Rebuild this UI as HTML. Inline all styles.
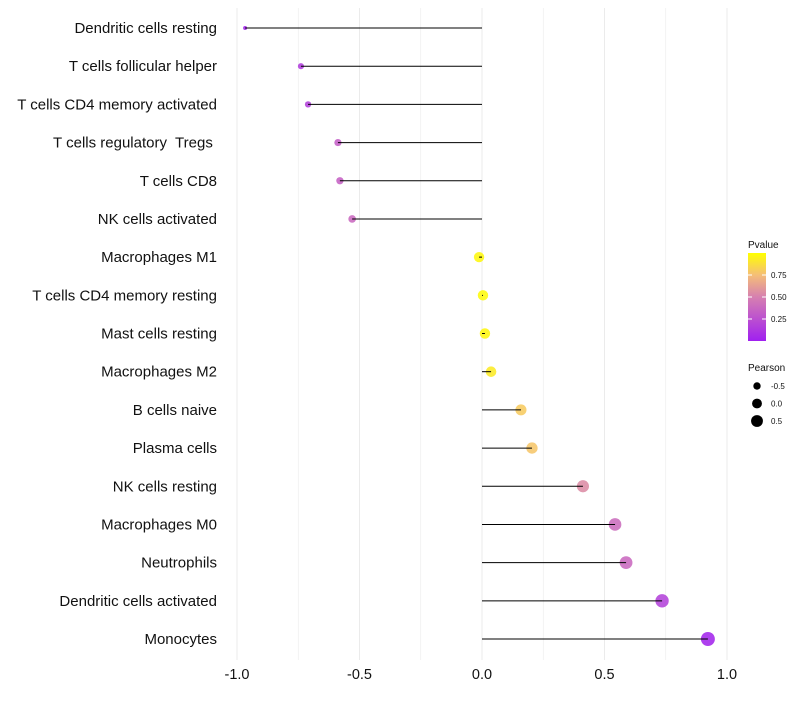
<!DOCTYPE html>
<html><head><meta charset="utf-8"><style>
body{margin:0;background:#fff;font-family:"Liberation Sans",sans-serif}
</style></head><body>
<svg id="c" width="800" height="700" xmlns="http://www.w3.org/2000/svg"></svg>
<script>
const categories=["Dendritic cells resting","T cells follicular helper","T cells CD4 memory activated","T cells regulatory  Tregs ","T cells CD8","NK cells activated","Macrophages M1","T cells CD4 memory resting","Mast cells resting","Macrophages M2","B cells naive","Plasma cells","NK cells resting","Macrophages M0","Neutrophils","Dendritic cells activated","Monocytes"];
const pearson=[-0.967,-0.739,-0.71,-0.588,-0.58,-0.53,-0.012,0.004,0.012,0.037,0.159,0.204,0.412,0.543,0.588,0.735,0.922];
const pvalue=[0.03,0.15,0.17,0.33,0.34,0.38,0.97,0.98,0.97,0.92,0.8,0.78,0.55,0.4,0.38,0.18,0.03];
const xTicks=[-1,-0.5,0,0.5,1];
const xTickLabels=["-1.0","-0.5","0.0","0.5","1.0"];
const pTicks=[0.25,0.5,0.75];
const pTickLabels=["0.25","0.50","0.75"];
const sizeKeys=[-0.5,0,0.5];
const sizeKeyLabels=["-0.5","0.0","0.5"];
const svg=document.getElementById('c');const NS="http://www.w3.org/2000/svg";
function el(t,a){const e=document.createElementNS(NS,t);for(const k in a)e.setAttribute(k,a[k]);svg.appendChild(e);return e;}
const x=v=>482+v*245;
const y=i=>28+i*(611/16);
const r=v=>Math.sqrt(Math.max(1,27+23.8*v));
const stops=[[0,[160,32,240]],[0.5,[214,128,176]],[0.75,[245,190,120]],[1,[255,255,0]]];
function col(p){for(let i=1;i<stops.length;i++){if(p<=stops[i][0]){const a=stops[i-1],b=stops[i],t=(p-a[0])/(b[0]-a[0]);return 'rgb('+a[1].map((c,j)=>Math.round(c+(b[1][j]-c)*t)).join(',')+')';}}return 'rgb(255,255,0)';}
for(let v=-1;v<=1.001;v+=0.25){const g=el('line',{x1:x(v),x2:x(v),y1:8,y2:660,stroke:'#ebebeb','stroke-width':Math.abs(v*2%1)<0.01?1:0.6});

}
xTicks.forEach((v,i)=>{const t=el('text',{x:x(v),y:679,'font-size':14.5,'text-anchor':'middle',fill:'#111'});t.textContent=xTickLabels[i];

});
categories.forEach((c,i)=>{const t=el('text',{x:217,y:y(i)+5,'font-size':15,'text-anchor':'end',fill:'#111','xml:space':'preserve',style:'white-space:pre'});t.textContent=c;


const d=el('circle',{cx:x(pearson[i]),cy:y(i),r:r(pearson[i]),fill:col(pvalue[i]),'fill-opacity':0.88});


const l=el('line',{x1:x(0),x2:x(pearson[i]),y1:y(i),y2:y(i),stroke:'#000','stroke-width':1});

});
const defs=el('defs',{});defs.innerHTML='<linearGradient id="pg" x1="0" y1="1" x2="0" y2="0"><stop offset="0" stop-color="rgb(160,32,240)"/><stop offset="0.5" stop-color="rgb(214,128,176)"/><stop offset="0.75" stop-color="rgb(245,190,120)"/><stop offset="1" stop-color="rgb(255,255,0)"/></linearGradient>';
let t=el('text',{x:748,y:248,'font-size':10,fill:'#111'});t.textContent='Pvalue';

const py=p=>341-p*88;
const bar=el('rect',{x:748,y:253,width:18,height:88,fill:'url(#pg)'});

pTicks.forEach((p,i)=>{el('line',{x1:748,x2:752,y1:py(p),y2:py(p),stroke:'#fff'});el('line',{x1:762,x2:766,y1:py(p),y2:py(p),stroke:'#fff'});
const tt=el('text',{x:771,y:py(p)+3,'font-size':8,fill:'#111'});tt.textContent=pTickLabels[i];
});
t=el('text',{x:748,y:371,'font-size':10,fill:'#111'});t.textContent='Pearson';

sizeKeys.forEach((v,i)=>{const cy=386+i*17.5;const cc=el('circle',{cx:757,cy:cy,r:r(v)*0.95,fill:'#000'});

const tt=el('text',{x:771,y:cy+3,'font-size':8,fill:'#111'});tt.textContent=sizeKeyLabels[i];
});
</script>
</body></html>
